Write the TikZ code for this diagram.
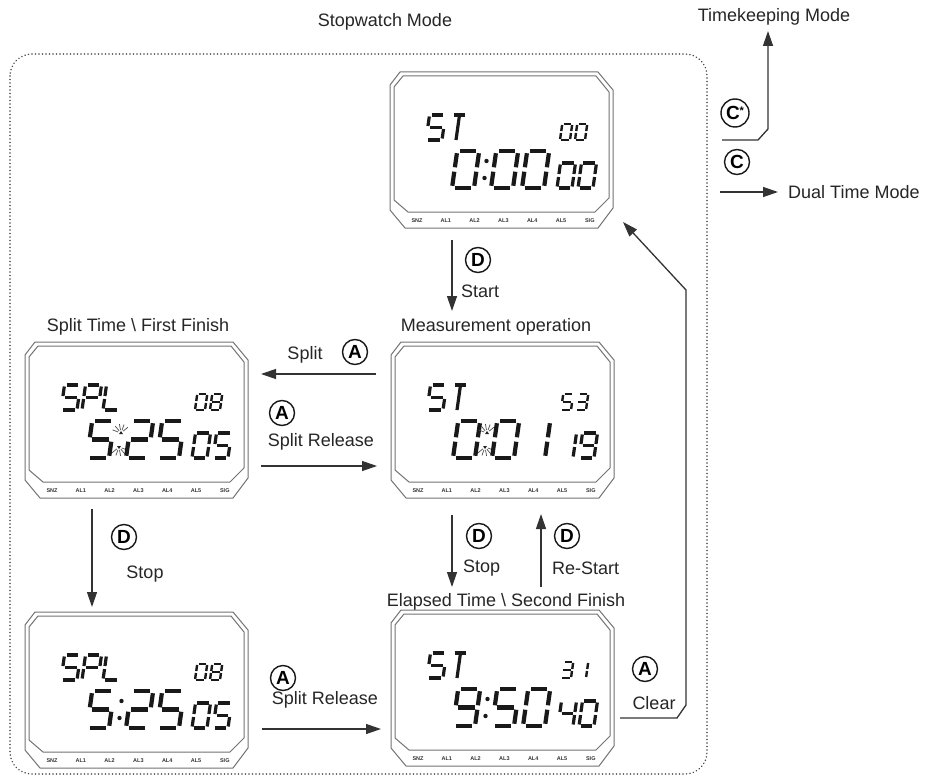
\documentclass[tikz,border=0pt]{standalone}
\usepackage{fontspec}
\setmainfont{Liberation Sans}
\usetikzlibrary{arrows.meta,calc}

\def\dzero{a,b,c,d,e,f}
\def\done{b,c}
\def\dtwo{a,b,g,e,d}
\def\dthree{a,b,g,c,d}
\def\dfour{f,g,b,c}
\def\dfive{a,f,g,c,d}
\def\deight{a,b,c,d,e,f,g}
\def\dnine{a,b,c,d,f,g}
\def\dS{a,f,g,c,d}
\def\dT{a,t}
\def\dP{a,b,f,g,e}
\def\dL{f,e,d}

\def\segda{\draw (0.13,1) -- (0.87,1);}
\def\segdb{\draw (1,0.94) -- (1,0.56);}
\def\segdc{\draw (1,0.44) -- (1,0.06);}
\def\segdd{\draw (0.13,0) -- (0.87,0);}
\def\segde{\draw (0,0.06) -- (0,0.44);}
\def\segdf{\draw (0,0.56) -- (0,0.94);}
\def\segdg{\draw (0.13,0.5) -- (0.87,0.5);}
\def\segdt{\draw (0.5,0.92) -- (0.5,0);}

\newcommand{\sdig}[6]{\begin{scope}[shift={(#1,#2)},xslant=0.14,x=#3pt,y=#4pt,line width=#5pt,draw=black!90]\foreach \s in #6 {\csname segd\s\endcsname}\end{scope}}
\newcommand{\modech}[2]{\sdig{#1}{68}{16}{25}{3.2}{#2}}
\newcommand{\topd}[2]{\sdig{#1}{68}{10}{16}{2.4}{#2}}
\newcommand{\bigd}[2]{\sdig{#1}{116}{22}{37}{4.2}{#2}}
\newcommand{\botd}[2]{\sdig{#1}{116}{15}{25}{3.2}{#2}}
\newcommand{\colondots}{\fill[black!90] (96.5,89) circle[radius=2.2pt]; \fill[black!90] (94.5,106) circle[radius=2.2pt];}
\newcommand{\starburst}{%
  \begin{scope}[shift={(96,91)}]
    \foreach \a in {200,230,...,340} \draw[line width=0.7pt,black!70] (\a:3) -- (\a:9);
    \fill[black!85] (-2,1) -- (2,1) -- (0,-2) -- cycle;
  \end{scope}
  \begin{scope}[shift={(94,105)}]
    \foreach \a in {20,50,...,160} \draw[line width=0.7pt,black!70] (\a:3) -- (\a:9);
    \fill[black!85] (-2,-1) -- (2,-1) -- (0,2) -- cycle;
  \end{scope}}

\tikzset{
 lcdnode/.style={draw=none, minimum width=223pt, minimum height=156pt, inner sep=0pt, outer sep=0pt, anchor=north west},
 lcdline/.style={draw=black!55, line width=1pt},
 lcdlab/.style={font=\fontsize{5.5}{5.5}\selectfont\bfseries, text=black!80, inner sep=0pt},
 lab/.style={font=\fontsize{18}{21}\selectfont, inner sep=1pt, text=black!85},
 circ/.style={circle, draw=black!90, line width=1.4pt, minimum size=25pt, inner sep=0pt, font=\fontsize{19}{19}\selectfont\bfseries},
 arr/.style={draw=black!80, line width=1.3pt, -{Triangle[length=15pt,width=10pt]}},
 frame/.style={draw=black!70, line width=1.6pt, dash pattern=on 0.1pt off 3.4pt, line cap=round, rounded corners=22pt},
}

\newcommand{\lcdframe}[3]{%
  \node[lcdnode] (#1) at (#2,#3) {};
  \begin{scope}[shift={(#1.north west)}]
    \draw[lcdline] (10,0) -- (208,0) -- (223,18) -- (223,136) -- (208,156) -- (15,156) -- (0,138) -- (0,13) -- cycle;
    \draw[lcdline] (13,4) -- (206,4) -- (219,20) -- (219,126) -- (205,140) -- (18,140) -- (4,128) -- (4,15) -- cycle;
    \foreach \t [count=\i from 0] in {SNZ,AL1,AL2,AL3,AL4,AL5,SIG}
      \node[lcdlab] (#1-l\i) at ({27+28.8*\i},149) {\t};
  \end{scope}}

\begin{document}
\begin{tikzpicture}[x=1pt,y=-1pt]
\useasboundingbox (0,0) rectangle (928,778);
\fill[white] (0,0) rectangle (928,778);

\draw[frame] (10,54) rectangle (707,774);

% LCDs
\lcdframe{L1}{390}{72}
\begin{scope}[shift={(L1.north west)}]
  \modech{36}{\dS}\modech{58}{\dT}
  \topd{170}{\dzero}\topd{185}{\dzero}
  \bigd{62}{\dzero}\colondots\bigd{101}{\dzero}\bigd{132}{\dzero}
  \botd{167}{\dzero}\botd{188}{\dzero}
\end{scope}

\lcdframe{L2}{391}{342}
\begin{scope}[shift={(L2.north west)}]
  \modech{36}{\dS}\modech{58}{\dT}
  \topd{170}{\dfive}\topd{185}{\dthree}
  \bigd{62}{\dzero}\starburst\bigd{101}{\dzero}\bigd{132}{\done}
  \botd{167}{\done}\botd{188}{\dnine}
\end{scope}

\lcdframe{L3}{25}{342}
\begin{scope}[shift={(L3.north west)}]
  \modech{36}{\dS}\modech{57}{\dP}\modech{78}{\dL}
  \topd{170}{\dzero}\topd{185}{\deight}
  \bigd{62}{\dfive}\starburst\bigd{101}{\dtwo}\bigd{132}{\dfive}
  \botd{167}{\dzero}\botd{188}{\dfive}
\end{scope}

\lcdframe{L4}{25}{612}
\begin{scope}[shift={(L4.north west)}]
  \modech{36}{\dS}\modech{57}{\dP}\modech{78}{\dL}
  \topd{170}{\dzero}\topd{185}{\deight}
  \bigd{62}{\dfive}\colondots\bigd{101}{\dtwo}\bigd{132}{\dfive}
  \botd{167}{\dzero}\botd{188}{\dfive}
\end{scope}

\lcdframe{L5}{391}{610}
\begin{scope}[shift={(L5.north west)}]
  \modech{36}{\dS}\modech{58}{\dT}
  \topd{170}{\dthree}\topd{185}{\done}
  \bigd{62}{\dnine}\colondots\bigd{101}{\dfive}\bigd{132}{\dzero}
  \botd{167}{\dfour}\botd{188}{\dzero}
\end{scope}

% texts
\node[lab] (tSW) at (385,22) {Stopwatch Mode};
\node[lab] (tTK) at (774,17) {Timekeeping Mode};
\node[lab, anchor=west] (tDT) at (787,192) {Dual Time Mode};
\node[lab] (tST) at (138,327) {Split Time \textbackslash{} First Finish};
\node[lab] (tMO) at (496,327) {Measurement operation};
\node[lab] (tET) at (506,602) {Elapsed Time \textbackslash{} Second Finish};
\node[lab, anchor=west] (tStart) at (460,291) {Start};
\node[lab] (tSplit) at (305,355) {Split};
\node[lab] (tSR1) at (321,442) {Split Release};
\node[lab] (tStop1) at (145,574) {Stop};
\node[lab] (tSR2) at (325,700) {Split Release};
\node[lab, anchor=west] (tStop2) at (462,568) {Stop};
\node[lab, anchor=west] (tRS) at (551,568) {Re-Start};
\node[lab] (tClear) at (654,703) {Clear};

% circled letters
\node[circ] (cD1) at (478,260) {D};
\node[circ] (cA1) at (355,352) {A};
\node[circ] (cA2) at (282,413) {A};
\node[circ] (cD2) at (124,537) {D};
\node[circ] (cA3) at (283,678) {A};
\node[circ] (cD3) at (479,536) {D};
\node[circ] (cD4) at (567,536) {D};
\node[circ] (cA4) at (645,669) {A};
\node[circ, minimum size=28pt] (cCs) at (735,113) {C\raisebox{5pt}{\fontsize{11}{11}\selectfont *}};
\node[circ] (cC) at (737,162) {C};

% connector points
\coordinate (p1a) at (452,240); \coordinate (p1b) at (452,311);
\coordinate (p2a) at (376,374); \coordinate (p2b) at (261,374);
\coordinate (p3a) at (261,466); \coordinate (p3b) at (377,466);
\coordinate (p4a) at (92,509);  \coordinate (p4b) at (92,607);
\coordinate (p5a) at (262,729); \coordinate (p5b) at (381,729);
\coordinate (p6a) at (452,515); \coordinate (p6b) at (452,587);
\coordinate (p7a) at (541,587); \coordinate (p7b) at (541,514);
\coordinate (p8a) at (620,718); \coordinate (p8b) at (623,222);
\coordinate (p9a) at (722,140); \coordinate (p9b) at (768,31);
\coordinate (p10a) at (720,192); \coordinate (p10b) at (778,192);

\draw[arr] (p1a) -- (p1b);
\draw[arr] (p2a) -- (p2b);
\draw[arr] (p3a) -- (p3b);
\draw[arr] (p4a) -- (p4b);
\draw[arr] (p5a) -- (p5b);
\draw[arr] (p6a) -- (p6b);
\draw[arr] (p7a) -- (p7b);
\draw[arr] (p8a) -- (677,718) -- (686,705) -- (686,290) -- (p8b);
\draw[arr] (p9a) -- (758,140) -- (768,129) -- (p9b);
\draw[arr] (p10a) -- (p10b);
\end{tikzpicture}
\end{document}
